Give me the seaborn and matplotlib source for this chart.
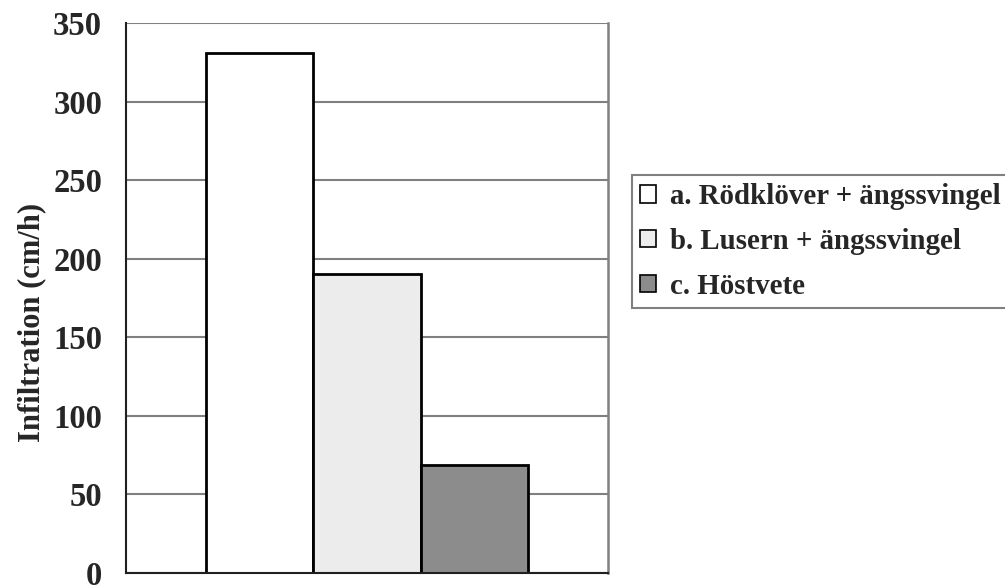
import matplotlib
matplotlib.use("Agg")
import matplotlib.pyplot as plt
import seaborn as sns
import pandas as pd

# Infiltration per crop treatment
treatments = ["a. Rödklöver + ängssvingel", "b. Lusern + ängssvingel", "c. Höstvete"]
infiltration = [331, 190, 69]
bar_colors = ["#ffffff", "#ececec", "#8c8c8c"]
y_ticks = [0, 50, 100, 150, 200, 250, 300, 350]
y_label = "Infiltration (cm/h)"

sns.set_theme(style="white")
plt.rcParams["font.family"] = ["Liberation Serif", "DejaVu Serif"]
plt.rcParams["font.weight"] = "bold"

df = pd.DataFrame({"group": [""] * len(treatments),
                   "treatment": treatments,
                   "value": infiltration})

fig = plt.figure(figsize=(10.05, 5.85), dpi=100)
ax = fig.add_axes([126 / 1005, 12 / 585, 482 / 1005, 550 / 585])

sns.barplot(data=df, x="group", y="value", hue="treatment",
            hue_order=treatments, palette=bar_colors, width=0.668,
            edgecolor="black", linewidth=2, saturation=1, ax=ax, legend=True)

ax.set_xlim(-0.5, 0.5)
ax.set_ylim(0, 350)
ax.set_yticks(y_ticks)
ax.set_yticklabels([str(v) for v in y_ticks], fontsize=23.5, fontweight="bold")
ax.set_xticks([-0.5, 0.5])
ax.set_xticklabels([])
ax.set_xlabel("")
ax.set_ylabel(y_label, fontsize=22, fontweight="bold")
ax.yaxis.set_label_coords(-0.165, 0.455)

ax.yaxis.grid(True, color="#808080", linewidth=1.5)
ax.set_axisbelow(True)
ax.tick_params(axis="y", direction="out", length=7.2, width=1.2, color="#404040", pad=10)
ax.tick_params(axis="x", direction="out", length=7.2, width=1.2, color="#404040")

ax.spines["top"].set_visible(False)
ax.spines["right"].set_color("#808080")
ax.spines["right"].set_linewidth(1.8)
ax.spines["left"].set_color("#202020")
ax.spines["left"].set_linewidth(1.5)
ax.spines["bottom"].set_color("#202020")
ax.spines["bottom"].set_linewidth(1.5)

handles, labels = ax.get_legend_handles_labels()
ax.legend_.remove()
leg = fig.legend(handles, labels, loc="upper left",
                 bbox_to_anchor=(632 / 1005, 1 - 175 / 585),
                 bbox_transform=fig.transFigure, borderaxespad=0,
                 fancybox=False, frameon=True, framealpha=1,
                 edgecolor="#808080", handlelength=0.55, handleheight=0.55,
                 handletextpad=0.5, labelspacing=0.62, borderpad=0.28,
                 prop={"family": "Liberation Serif", "weight": "bold", "size": 20.8})
leg.get_frame().set_linewidth(1.5)
for h in leg.legend_handles:
    h.set_linewidth(1.2)

fig.savefig("out.png", dpi=100)
